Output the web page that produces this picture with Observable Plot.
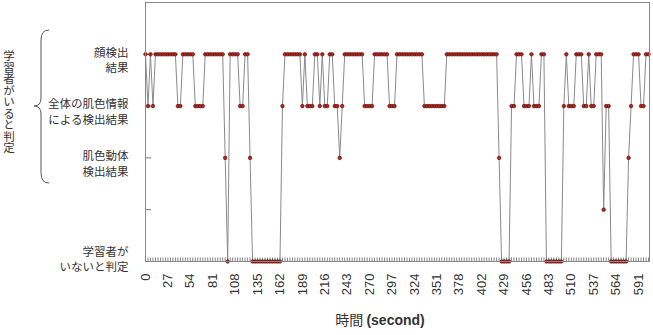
<!DOCTYPE html>
<html><head><meta charset="utf-8">
<script src="https://cdn.jsdelivr.net/npm/d3@7"></script>
<script src="https://cdn.jsdelivr.net/npm/@observablehq/plot@0.6"></script>
<style>body{margin:0;background:#fff} svg{display:block}</style>
</head><body><div id="chart"></div>
<script>
// detection state per sample (0 = absent, 2 = skin motion, 3 = whole skin colour, 4 = face)
const states = [
  4,3,4,3,4,4,4,4,4,4,
  4,4,4,3,3,4,4,4,4,4,
  3,3,3,3,4,4,4,4,4,4,
  4,4,2,0,4,4,4,4,3,3,
  4,4,2,0,0,0,0,0,0,0,
  0,0,0,0,0,3,4,4,4,4,
  4,4,4,3,4,3,3,3,4,4,
  3,4,3,3,4,4,3,3,2,3,
  4,4,4,4,4,4,4,4,3,3,
  3,3,4,4,4,4,4,4,3,3,
  3,4,4,4,4,4,4,4,4,4,
  4,4,3,3,3,3,3,3,3,3,
  3,4,4,4,4,4,4,4,4,4,
  4,4,4,4,4,4,4,4,4,4,
  4,4,2,0,0,0,0,3,3,4,
  4,4,3,3,3,4,3,3,3,4,
  4,0,0,0,0,0,0,0,3,4,
  3,3,3,4,4,4,3,3,4,3,
  3,4,4,4,1,3,3,0,0,0,
  0,0,0,0,2,3,4,4,4,3,
  3,4,4
];
const levels = [0, 1, 2, 3, 4];
const levelLabels = ["学習者が\nいないと判定", "", "肌色動体\n検出結果", "全体の肌色情報\nによる検出結果", "顔検出\n結果"];
const tickLabels = ["0","27","54","81","108","135","162","189","216","243","270","297","324","351","378","402","429","456","483","510","537","564","591"];
const xTitle = "時間";
const xUnit = "(second)";
const sideTitle = "学習者がいると判定";

const samples = states.map((s, i) => ({i, s}));
const tickIdx = tickLabels.map((_, k) => k * 9);

const W = 653, H = 335, mL = 145, mR = 4, mT = 2, mB = 74;
const plotH = H - mT - mB, plotW = W - mL - mR;
const jp = "'Noto Sans CJK JP', 'Noto Sans', sans-serif";

const chart = Plot.plot({
  width: W, height: H,
  marginLeft: mL, marginRight: mR, marginTop: mT, marginBottom: mB,
  style: {fontFamily: "'Liberation Sans', Arial, sans-serif", color: "#333", background: "#fff"},
  x: {domain: [0, 202.4], axis: null},
  y: {domain: [0, 5], axis: null},
  marks: [
    Plot.ruleX(samples, {x: "i", insetTop: plotH - 3.5, stroke: "#666", strokeWidth: 0.8}),
    Plot.ruleY(levels, {y: d => d, insetRight: plotW - 6, stroke: "#777"}),
    Plot.line(samples, {x: "i", y: "s", stroke: "#8a8a8a", strokeWidth: 1}),
    Plot.dot(samples, {x: "i", y: "s", r: 1.8, fill: "#b8231b", stroke: "#4a0a06", strokeWidth: 0.6}),
    Plot.frame({stroke: "#888"}),
    Plot.axisX(tickIdx, {tickSize: 0, tickPadding: 12, tickRotate: -90, tickFormat: d => tickLabels[d / 9], fontSize: 13, label: null, fill: "#333"}),
    Plot.text(levels.filter(l => l >= 2), {y: d => d, text: d => levelLabels[d], frameAnchor: "left", dx: -17, dy: 5, textAnchor: "end", lineAnchor: "middle", fontSize: 11.5, fontFamily: jp, lineHeight: 1.35, fill: "#333"}),
    Plot.text(levels.filter(l => l === 0), {y: d => d, text: d => levelLabels[d], frameAnchor: "left", dx: -17, dy: -3, textAnchor: "end", lineAnchor: "middle", fontSize: 11.5, fontFamily: jp, lineHeight: 1.35, fill: "#333"})
  ]
});

const svg = d3.select(chart);
// brace grouping the three "present" levels
svg.append("path")
  .attr("d", "M49,30 Q41,30 41,40 L41,98 Q41,106 34,106 Q41,106 41,114 L41,173 Q41,183 49,183")
  .attr("fill", "none").attr("stroke", "#555").attr("stroke-width", 1);
svg.append("text")
  .attr("x", 9).attr("y", 102)
  .attr("text-anchor", "middle")
  .style("writing-mode", "vertical-rl")
  .attr("font-family", jp).attr("font-size", 11.5).attr("fill", "#333")
  .text(sideTitle);
const xl = svg.append("text")
  .attr("x", 380).attr("y", 325).attr("text-anchor", "middle")
  .attr("font-size", 14).attr("fill", "#333");
xl.append("tspan").attr("font-family", jp).text(xTitle + " ");
xl.append("tspan").attr("font-family", "'Liberation Sans', Arial, sans-serif").attr("font-weight", "bold").text(xUnit);

document.getElementById("chart").appendChild(chart);
</script>
</body></html>
